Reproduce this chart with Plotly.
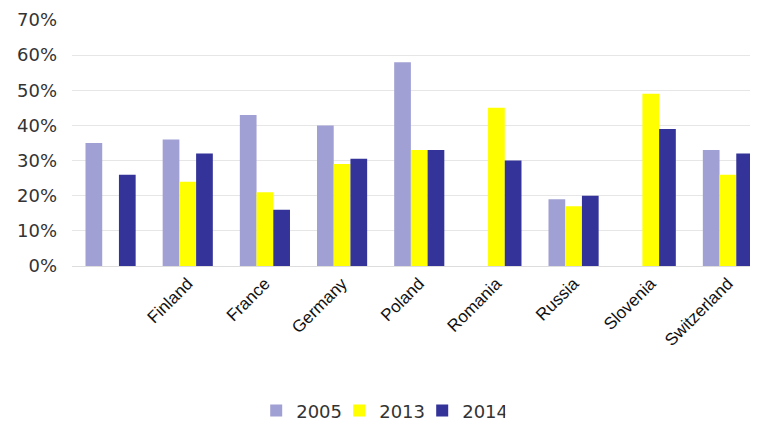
import plotly.graph_objects as go

categories = [" ", "Finland", "France", "Germany", "Poland", "Romania", "Russia", "Slovenia", "Switzerland"]
v2005 = [0.35, 0.36, 0.43, 0.40, 0.58, None, 0.19, None, 0.33]
v2013 = [None, 0.24, 0.21, 0.29, 0.33, 0.45, 0.17, 0.49, 0.26]
v2014 = [0.26, 0.32, 0.16, 0.305, 0.33, 0.30, 0.20, 0.39, 0.32]
series_names = ["2005", "2013", "2014"]
colors = ["#A0A0D4", "#FFFF00", "#333399"]

fig = go.Figure()
for name, vals, col in zip(series_names, [v2005, v2013, v2014], colors):
    fig.add_trace(go.Bar(x=categories, y=vals, name=name, marker=dict(color=col, line=dict(width=0))))

fig.update_layout(
    width=758, height=427, autosize=False,
    margin=dict(l=64, r=8, t=12, b=169, autoexpand=False),
    paper_bgcolor="white", plot_bgcolor="white",
    barmode="group", bargap=0.35, bargroupgap=0,
    font=dict(family="Liberation Sans, Arial, sans-serif", color="#222222"),
    legend=dict(orientation="h", x=0.45, xanchor="center",
                y=-0.589, yanchor="middle",
                font=dict(size=18, family="DejaVu Sans, sans-serif", color="#333333"),
                itemwidth=30, entrywidth=38, traceorder="normal", tracegroupgap=0),
    showlegend=True,
)
fig.update_xaxes(range=[-0.5, 8.39], tickangle=-45, tickfont=dict(size=17, color="#111111"),
                 showline=True, linecolor="#DDDDDD", ticks="", showgrid=False, automargin=False)
fig.update_yaxes(range=[0, 0.7], dtick=0.1, tickformat=".0%",
                 tickfont=dict(size=18, family="DejaVu Sans, sans-serif", color="#333333"),
                 showgrid=True, gridcolor="#E6E6E6", zeroline=False, ticklabelstandoff=14, automargin=False)

fig.write_html("out.html")
